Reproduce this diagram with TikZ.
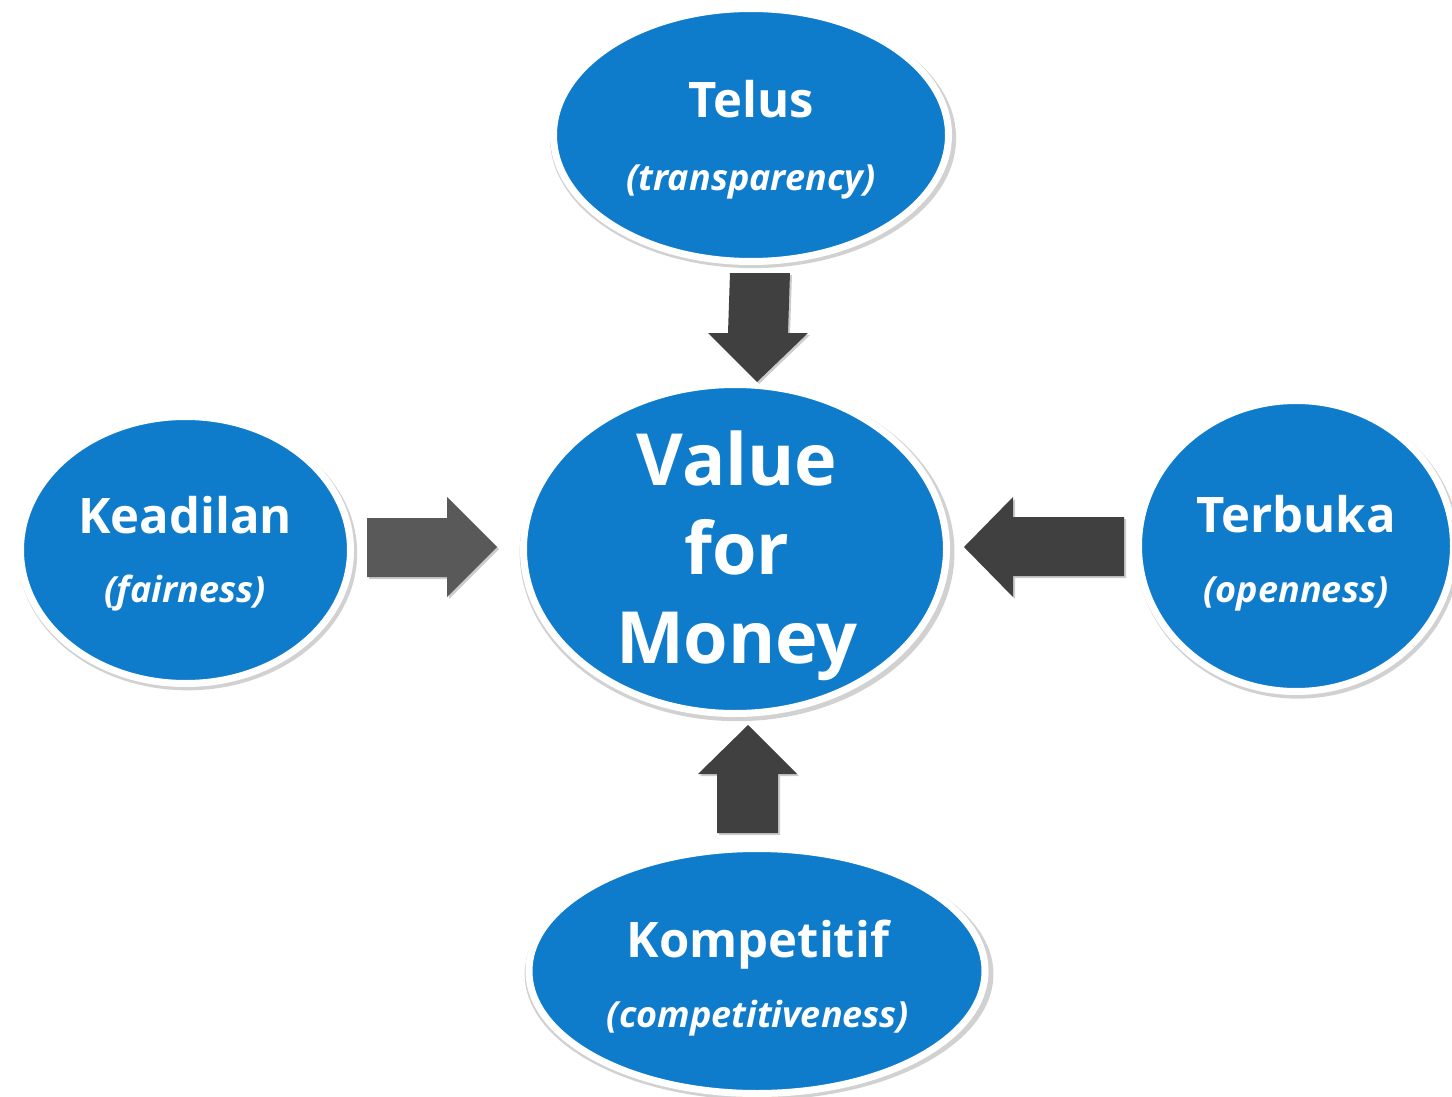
\documentclass[tikz,border=0pt]{standalone}
\usepackage{fontspec}
\setmainfont{Open Sans}
\usetikzlibrary{shapes.geometric,shadows}
\definecolor{bblue}{RGB}{15,123,203}
\definecolor{darr}{RGB}{64,64,64}
\definecolor{larr}{RGB}{89,89,89}
\tikzset{
  bubble/.style={ellipse, fill=bblue, draw=white, line width=7pt, inner sep=0pt,
    drop shadow={shadow xshift=2pt, shadow yshift=-3pt, shadow scale=1.028, opacity=0.18, fill=black}},
  head/.style={text=white, font=\bfseries\fontsize{49}{56}\selectfont, anchor=base, inner sep=0pt},
  sub/.style={text=white, font=\bfseries\itshape\fontsize{36}{42}\selectfont, anchor=base, inner sep=0pt},
  big/.style={text=white, font=\bfseries\fontsize{72}{84}\selectfont, anchor=base, inner sep=0pt},
  blockarr/.style={fill=darr, drop shadow={shadow xshift=2pt, shadow yshift=-2pt, opacity=0.2, fill=black}}
}
\begin{document}
\begin{tikzpicture}[x=1pt,y=-1pt]
\useasboundingbox (0,0) rectangle (1452,1097);
% bubbles
\node[bubble, minimum width=395pt, minimum height=253pt] (telus) at (751,135) {};
\node[bubble, minimum width=423pt, minimum height=329pt] (vfm) at (735,549) {};
\node[bubble, minimum width=330pt, minimum height=267pt] (kea) at (185.5,550) {};
\node[bubble, minimum width=315pt, minimum height=291pt] (ter) at (1296,546) {};
\node[bubble, minimum width=456pt, minimum height=245pt] (kom) at (757,971) {};
% texts
\node[head] (tTelus) at (751,118) {Telus};
\node[sub] (sTelus) at (751,191) {(transparency)};
\node[head] (tKea) at (185,533) {Keadilan};
\node[sub] (sKea) at (185,602) {(fairness)};
\node[head] (tTer) at (1296,532) {Terbuka};
\node[sub] (sTer) at (1296,602) {(openness)};
\node[head] (tKom) at (758,957) {Kompetitif};
\node[sub] (sKom) at (758,1027) {(competitiveness)};
\node[big] (v1) at (737,485) {Value};
\node[big] (v2) at (737,574) {for};
\node[big] (v3) at (737,663) {Money};
% block arrows
\coordinate (aDtip) at (757,382);
\coordinate (aUtip) at (748,725);
\coordinate (aRtip) at (497,547);
\coordinate (aLtip) at (964,547);
\fill[blockarr] (730,273) -- (790,273) -- (788,333) -- (808,333) -- (aDtip) -- (708,333) -- (728,333) -- cycle;
\fill[blockarr] (717,833) -- (778,833) -- (778,774) -- (797,774) -- (aUtip) -- (698,774) -- (717,774) -- cycle;
\fill[blockarr, fill=larr] (367,518) -- (447,518) -- (447,497) -- (aRtip) -- (447,597) -- (447,577) -- (367,577) -- cycle;
\fill[blockarr] (1124,517) -- (1013,517) -- (1013,497) -- (aLtip) -- (1013,597) -- (1013,576) -- (1124,576) -- cycle;
\end{tikzpicture}
\end{document}
